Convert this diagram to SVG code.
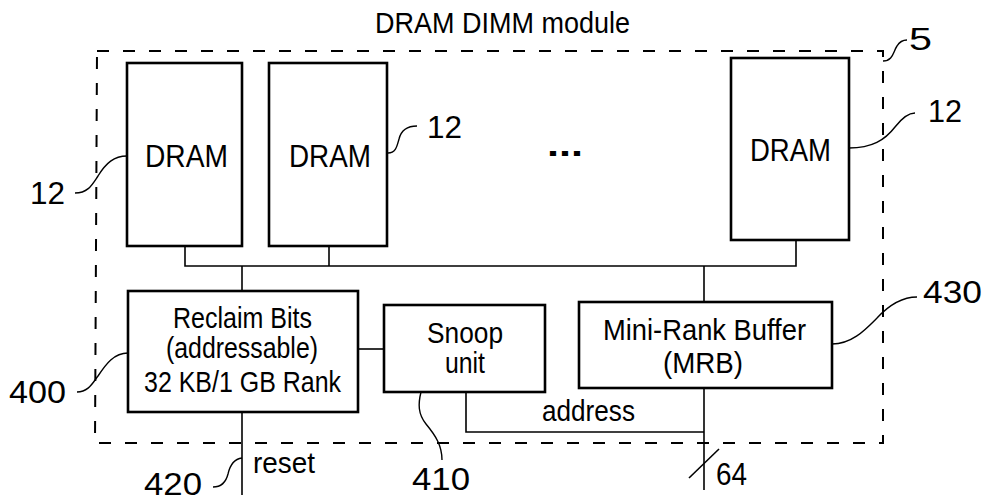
<svg xmlns="http://www.w3.org/2000/svg" width="986" height="504" viewBox="0 0 986 504">
<style>
text{font-family:"Liberation Sans",Arial,sans-serif;fill:#000}
.lbl{font-size:29px}
.num{font-size:31px}
.big{font-size:31px}
.box{fill:#fff;stroke:#000;stroke-width:2.6}
.wire{fill:none;stroke:#000;stroke-width:1.6}
.lead{fill:none;stroke:#000;stroke-width:1.4}
.dash{fill:none;stroke:#000;stroke-width:2;stroke-dasharray:12 14}
</style>
<rect width="986" height="504" fill="#fff"/>
<g id="module">
<path class="dash" d="M97 51 H883 V443 H95 Z"/>
<text class="lbl" x="375" y="33" textLength="255" lengthAdjust="spacingAndGlyphs">DRAM DIMM module</text>
<text class="num" x="909" y="50" textLength="23" lengthAdjust="spacingAndGlyphs">5</text>
<path class="lead" d="M883 61 C893 61 893 52 897 46 C900 41 903 40 907 40"/>
</g>
<g id="connectors">
<path class="wire" d="M185 246 V266 H796 V240"/>
<path class="wire" d="M329 246 V266"/>
<path class="wire" d="M242 266 V291"/>
<path class="wire" d="M704 266 V302"/>
<path class="wire" d="M358 349 H384"/>
<path class="wire" d="M466 392 V432 H704"/>
<path class="wire" d="M704 388 V490"/>
<path class="wire" d="M242 412 V495"/>
<path class="wire" d="M689 478 L719 449"/>
<text class="lbl" x="542" y="421" textLength="93" lengthAdjust="spacingAndGlyphs">address</text>
<text class="lbl" x="253" y="473" textLength="62" lengthAdjust="spacingAndGlyphs">reset</text>
<text class="num" x="716" y="485" textLength="31" lengthAdjust="spacingAndGlyphs">64</text>
<text class="num" x="144" y="495" textLength="58" lengthAdjust="spacingAndGlyphs">420</text>
<path class="lead" d="M213 487 C222 487 226 482 228 474 C230 465 234 459 242 458"/>
</g>
<g id="dram1">
<rect class="box" x="127" y="63" width="115" height="183"/>
<text class="big" x="145" y="167" textLength="83" lengthAdjust="spacingAndGlyphs">DRAM</text>
<text class="num" x="30" y="204" textLength="35" lengthAdjust="spacingAndGlyphs">12</text>
<path class="lead" d="M75 193 C88 193 92 185 98 176 C106 163 114 156 127 156"/>
</g>
<g id="dram2">
<rect class="box" x="269" y="63" width="118" height="183"/>
<text class="big" x="289" y="167" textLength="82" lengthAdjust="spacingAndGlyphs">DRAM</text>
<text class="num" x="427" y="138" textLength="35" lengthAdjust="spacingAndGlyphs">12</text>
<path class="lead" d="M388 153 C396 153 397 146 399 139 C401 131 406 126 417 126"/>
</g>
<g id="ellipsis">
<text x="547" y="156" font-size="34" font-weight="bold" textLength="36" lengthAdjust="spacingAndGlyphs">...</text>
</g>
<g id="dram3">
<rect class="box" x="731" y="58" width="118" height="182"/>
<text class="big" x="750" y="161" textLength="81" lengthAdjust="spacingAndGlyphs">DRAM</text>
<text class="num" x="928" y="122" textLength="34" lengthAdjust="spacingAndGlyphs">12</text>
<path class="lead" d="M849 148 C872 148 885 140 895 127 C902 118 908 113 915 113"/>
</g>
<g id="reclaim">
<rect class="box" x="128" y="291" width="230" height="121"/>
<text class="lbl" x="173" y="328" textLength="139" lengthAdjust="spacingAndGlyphs">Reclaim Bits</text>
<text class="lbl" x="166" y="358" textLength="152" lengthAdjust="spacingAndGlyphs">(addressable)</text>
<text class="lbl" x="144" y="392" textLength="197" lengthAdjust="spacingAndGlyphs">32 KB/1 GB Rank</text>
<text class="num" x="9" y="403" textLength="57" lengthAdjust="spacingAndGlyphs">400</text>
<path class="lead" d="M77 392 C88 392 92 384 98 376 C106 364 114 353 128 353"/>
</g>
<g id="snoop">
<rect class="box" x="384" y="305" width="161" height="87"/>
<text class="lbl" x="427" y="343" textLength="76" lengthAdjust="spacingAndGlyphs">Snoop</text>
<text class="lbl" x="445" y="373" textLength="40" lengthAdjust="spacingAndGlyphs">unit</text>
<text class="num" x="412" y="490" textLength="58" lengthAdjust="spacingAndGlyphs">410</text>
<path class="lead" d="M421 392 C418 404 418 414 426 424 C436 436 442 446 442 460"/>
</g>
<g id="mrb">
<rect class="box" x="579" y="302" width="253" height="86"/>
<text class="lbl" x="603" y="340" textLength="203" lengthAdjust="spacingAndGlyphs">Mini-Rank Buffer</text>
<text class="lbl" x="663" y="373" textLength="80" lengthAdjust="spacingAndGlyphs">(MRB)</text>
<text class="num" x="923" y="303" textLength="59" lengthAdjust="spacingAndGlyphs">430</text>
<path class="lead" d="M832 344 C852 344 865 330 877 318 C890 304 902 297 917 297"/>
</g>
</svg>
